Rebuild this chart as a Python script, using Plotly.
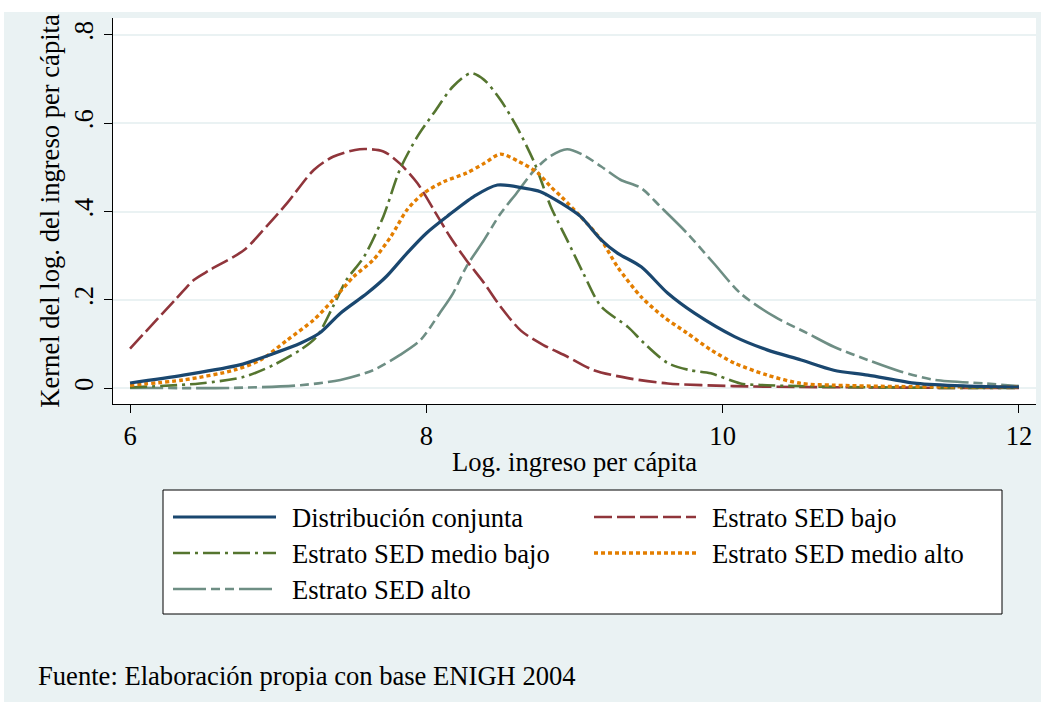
import plotly.graph_objects as go

# ---------------- data ----------------
x_conj = [6.0, 6.36, 6.74, 6.97, 7.15, 7.28, 7.42, 7.60, 7.73, 7.87, 8.00, 8.14, 8.32, 8.48,
          8.66, 8.77, 8.91, 9.04, 9.18, 9.29, 9.45, 9.63, 9.81, 10.08, 10.30, 10.53, 10.75,
          10.98, 11.31, 11.65, 12.0]
y_conj = [0.012, 0.030, 0.053, 0.079, 0.102, 0.125, 0.170, 0.215, 0.253, 0.306, 0.351, 0.389,
          0.434, 0.460, 0.453, 0.445, 0.419, 0.389, 0.336, 0.306, 0.275, 0.215, 0.170, 0.117,
          0.087, 0.064, 0.041, 0.030, 0.011, 0.005, 0.003]

x_bajo = [6.0, 6.315, 6.43, 6.54, 6.77, 6.92, 7.06, 7.24, 7.37, 7.55, 7.71, 7.82, 7.94, 8.05,
          8.16, 8.27, 8.39, 8.50, 8.64, 8.79, 8.95, 9.13, 9.36, 9.63, 10.07, 10.5, 11.0, 11.5, 12.0]
y_bajo = [0.090, 0.204, 0.245, 0.268, 0.313, 0.366, 0.419, 0.494, 0.524, 0.541, 0.536, 0.509,
          0.464, 0.404, 0.343, 0.290, 0.238, 0.185, 0.130, 0.098, 0.072, 0.041, 0.023, 0.011,
          0.005, 0.003, 0.002, 0.001, 0.001]

x_mbajo = [6.0, 6.47, 6.77, 6.97, 7.15, 7.26, 7.37, 7.46, 7.58, 7.71, 7.82, 7.94, 8.05, 8.18,
           8.30, 8.39, 8.50, 8.61, 8.73, 8.84, 8.95, 9.06, 9.18, 9.36, 9.47, 9.63, 9.78, 9.92,
           10.12, 10.30, 10.8, 11.5, 12.0]
y_mbajo = [0.002, 0.011, 0.026, 0.053, 0.087, 0.117, 0.185, 0.245, 0.298, 0.389, 0.494, 0.570,
           0.623, 0.683, 0.713, 0.698, 0.653, 0.592, 0.510, 0.411, 0.336, 0.260, 0.185, 0.139,
           0.102, 0.057, 0.041, 0.034, 0.011, 0.007, 0.003, 0.001, 0.001]

x_malto = [6.0, 6.36, 6.70, 6.88, 7.06, 7.24, 7.37, 7.51, 7.64, 7.76, 7.87, 7.98, 8.12, 8.27,
           8.39, 8.50, 8.62, 8.75, 8.84, 8.91, 9.04, 9.18, 9.29, 9.45, 9.60, 9.76, 9.92, 10.08,
           10.30, 10.53, 10.75, 11.2, 12.0]
y_malto = [0.007, 0.019, 0.041, 0.064, 0.109, 0.155, 0.200, 0.253, 0.290, 0.343, 0.404, 0.441,
           0.468, 0.487, 0.509, 0.530, 0.514, 0.488, 0.456, 0.434, 0.389, 0.336, 0.275, 0.207,
           0.162, 0.125, 0.087, 0.057, 0.030, 0.011, 0.007, 0.004, 0.003]

x_alto = [6.0, 6.70, 7.15, 7.42, 7.64, 7.82, 7.96, 8.09, 8.18, 8.27, 8.39, 8.50, 8.61, 8.73,
          8.84, 8.95, 9.06, 9.18, 9.31, 9.45, 9.58, 9.76, 9.94, 10.12, 10.35, 10.57, 10.75,
          10.98, 11.20, 11.43, 11.77, 12.0]
y_alto = [0.001, 0.001, 0.007, 0.019, 0.041, 0.075, 0.109, 0.170, 0.215, 0.275, 0.336, 0.395,
          0.442, 0.494, 0.526, 0.541, 0.528, 0.502, 0.472, 0.453, 0.411, 0.351, 0.283, 0.215,
          0.162, 0.125, 0.094, 0.064, 0.038, 0.019, 0.011, 0.005]

series_names = ["Distribución conjunta", "Estrato SED bajo", "Estrato SED medio bajo",
                "Estrato SED medio alto", "Estrato SED alto"]
x_ticks = [6, 8, 10, 12]
y_ticks = [0, 0.2, 0.4, 0.6, 0.8]
y_ticktext = ["0", ".2", ".4", ".6", ".8"]
x_title = "Log. ingreso per cápita"
y_title = "Kernel del log. del ingreso per cápita"
note = "Fuente: Elaboración propia con base ENIGH 2004"

# ---------------- styles ----------------
FONT = "Liberation Serif"
FS = 26.6
BG = "#EAF2F3"
colors = ["#1a476f", "#90353b", "#55752f", "#e37e00", "#6e8e84"]
dashes = ["solid", "18px,5px", "17px,5px,3px,5px", "4px,3px", "33px,5px,9px,5px,9px,5px"]
widths = [3.2, 2.6, 2.6, 3.4, 2.6]

W, H = 1045, 702
PL, PR, PT, PB = 113, 1036, 18, 404  # plot area in pixels


def px_x(px):
    return (px - PL) / (PR - PL)


def px_y(py):
    return (PB - py) / (PB - PT)


fig = go.Figure()
data = [(x_conj, y_conj), (x_bajo, y_bajo), (x_mbajo, y_mbajo), (x_malto, y_malto), (x_alto, y_alto)]
order = [4, 1, 2, 3, 0]
for i in order:
    xs, ys = data[i]
    fig.add_trace(go.Scatter(
        x=xs, y=ys, mode="lines", name=series_names[i], showlegend=False,
        line=dict(color=colors[i], width=widths[i], dash=dashes[i], shape="spline", smoothing=0.8),
    ))

shapes = []
annotations = []
# page background pieces (white strip at the top and sides)
shapes.append(dict(type="rect", xref="paper", yref="paper", layer="below",
                   x0=px_x(0), x1=px_x(W), y0=px_y(12), y1=px_y(0),
                   fillcolor="white", line=dict(width=0)))
shapes.append(dict(type="rect", xref="paper", yref="paper", layer="below",
                   x0=px_x(0), x1=px_x(4), y0=px_y(H), y1=px_y(0),
                   fillcolor="white", line=dict(width=0)))
shapes.append(dict(type="rect", xref="paper", yref="paper", layer="below",
                   x0=px_x(1041), x1=px_x(W), y0=px_y(H), y1=px_y(0),
                   fillcolor="white", line=dict(width=0)))

# legend box
shapes.append(dict(type="rect", xref="paper", yref="paper",
                   x0=px_x(163), x1=px_x(1002), y0=px_y(614), y1=px_y(490),
                   fillcolor="white", line=dict(color="black", width=1)))
leg_pos = [(173, 276, 290, 517), (594, 696, 710, 517), (173, 276, 290, 553),
           (594, 696, 710, 553), (173, 276, 290, 589)]
for i, (lx0, lx1, tx, ly) in enumerate(leg_pos):
    shapes.append(dict(type="line", xref="paper", yref="paper",
                       x0=px_x(lx0), x1=px_x(lx1), y0=px_y(ly), y1=px_y(ly),
                       line=dict(color=colors[i], width=widths[i], dash=dashes[i])))
    annotations.append(dict(text=series_names[i], xref="paper", yref="paper",
                            x=px_x(tx), y=px_y(ly + 1), xanchor="left", yanchor="middle",
                            showarrow=False, font=dict(family=FONT, size=FS, color="black")))

annotations.append(dict(text=note, xref="paper", yref="paper", x=px_x(36), y=px_y(676),
                        xanchor="left", yanchor="middle", showarrow=False,
                        font=dict(family=FONT, size=FS, color="black")))

fig.update_layout(
    width=W, height=H,
    margin=dict(l=PL, r=W - PR, t=PT, b=H - PB, pad=0),
    paper_bgcolor=BG, plot_bgcolor="white",
    font=dict(family=FONT, size=FS, color="black"),
    shapes=shapes, annotations=annotations, showlegend=False,
)
fig.update_xaxes(range=[5.885, 12.115], tickmode="array", tickvals=x_ticks,
                 ticks="outside", ticklen=8, tickwidth=1, tickcolor="black",
                 showline=True, linecolor="black", linewidth=1, mirror=False,
                 showgrid=False, zeroline=False,
                 tickfont=dict(family=FONT, size=FS, color="black"),
                 title=dict(text=x_title, standoff=2, font=dict(family=FONT, size=FS, color="black")),
                 automargin=False)
fig.update_yaxes(range=[-0.0355, 0.838], tickmode="array", tickvals=y_ticks, ticktext=y_ticktext,
                 tickangle=-90, ticks="outside", ticklen=8, tickwidth=1, tickcolor="black",
                 showline=True, linecolor="black", linewidth=1,
                 showgrid=True, gridcolor=BG, gridwidth=2, zeroline=False,
                 tickfont=dict(family=FONT, size=FS, color="black"),
                 ticklabelstandoff=0,
                 title=dict(text=y_title, standoff=2, font=dict(family=FONT, size=FS, color="black")),
                 automargin=False)

fig.write_html("out.html")
